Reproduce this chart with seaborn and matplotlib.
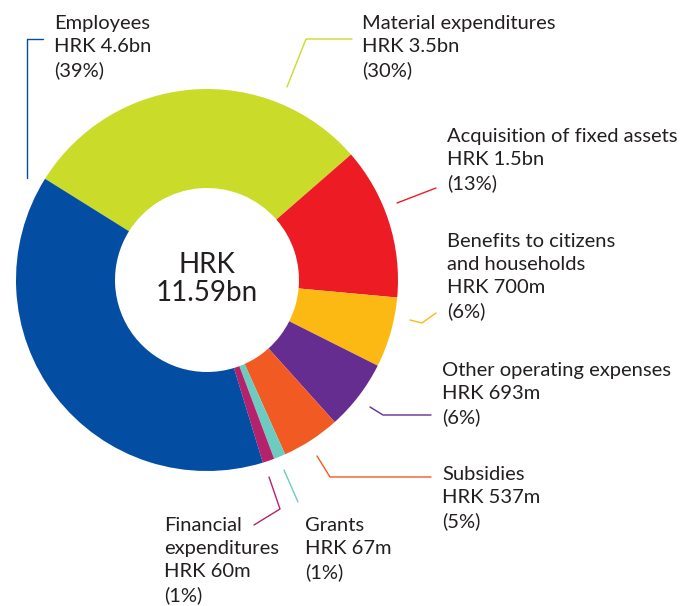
import seaborn as sns
import matplotlib.pyplot as plt

# budget split, wedge sizes drawn from the shown percentages
categories = ['Material expenditures', 'Acquisition of fixed assets',
              'Benefits to citizens\nand households', 'Other operating expenses',
              'Subsidies', 'Grants', 'Financial\nexpenditures', 'Employees']
amounts = ['HRK 3.5bn', 'HRK 1.5bn', 'HRK 700m', 'HRK 693m',
           'HRK 537m', 'HRK 67m', 'HRK 60m', 'HRK 4.6bn']
shares = [30, 13, 6, 6, 5, 1, 1, 39]
total_label = 'HRK\n11.59bn'

colors = ['#CBDB2A', '#ED1C24', '#FDB913', '#662D91',
          '#F15A22', '#6CCCC0', '#B5216B', '#034EA2']

sns.set_theme(style='white')
plt.rcParams['font.family'] = ['Lato', 'DejaVu Sans']

fig = plt.figure(figsize=(6.81, 6.06), dpi=100)
ax = fig.add_axes([0, 0, 1, 1])

# y axis is flipped below, so counterclock=True runs clockwise on screen
ax.pie(shares, colors=sns.color_palette(colors), startangle=-148, counterclock=True,
       center=(207, 280), radius=191,
       wedgeprops=dict(width=99, linewidth=0))
ax.set_xlim(0, 681)
ax.set_ylim(606, 0)
ax.set_aspect('equal')
ax.axis('off')

ax.text(207, 279, total_label, ha='center', va='center', fontsize=20,
        color='#231f20', linespacing=1.08)

# label position and leader line for each slice
label_pos = [(362, 15), (447, 128), (447, 233), (442, 362),
             (442, 466), (305, 517), (164, 517), (54, 15)]
leaders = [
    [(287, 87), (306, 39), (352, 39)],
    [(397, 203), (436, 188)],
    [(410, 320), (422, 323), (436, 313)],
    [(370, 407), (383, 415), (431, 415)],
    [(317, 456), (330, 477), (431, 477)],
    [(284, 470), (298, 502)],
    [(269, 477), (280, 509), (254, 525)],
    [(27, 178), (27, 39), (43, 39)],
]

for cat, amt, sh, col, pos, pts in zip(categories, amounts, shares, colors, label_pos, leaders):
    ax.text(pos[0], pos[1], f'{cat}\n{amt}\n({sh}%)', ha='left', va='top',
            fontsize=14.5, color='#231f20', linespacing=1.42)
    xs = [p[0] for p in pts]
    ys = [p[1] for p in pts]
    ax.plot(xs, ys, color=col, lw=1)

plt.savefig('out.png', dpi=100)
